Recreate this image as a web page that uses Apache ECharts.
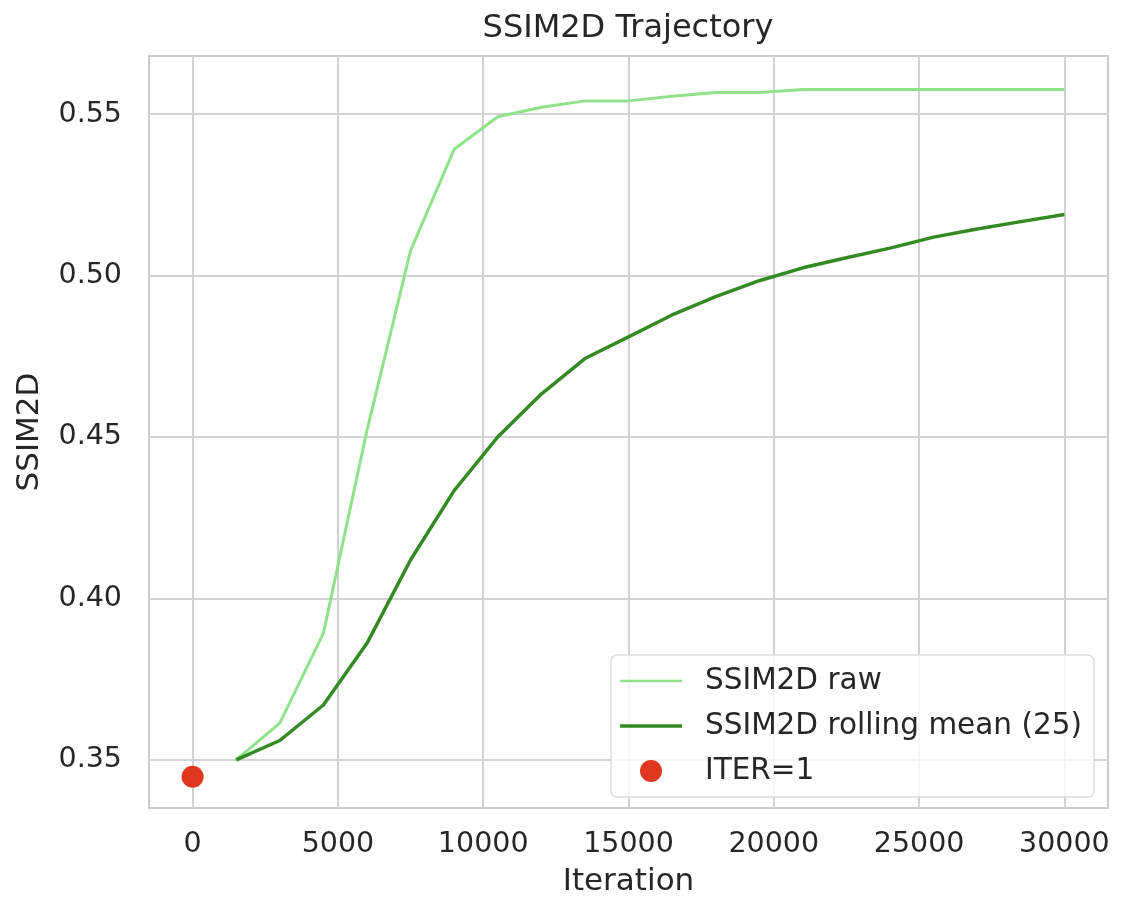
<!DOCTYPE html>
<html>
<head>
<meta charset="utf-8">
<title>SSIM2D Trajectory</title>
<script src="https://cdn.jsdelivr.net/npm/echarts@6/dist/echarts.min.js"></script>
<style>
  html, body { margin: 0; padding: 0; background: #fff; }
  #main { width: 1122px; height: 909px; }
</style>
</head>
<body>
<div id="main"></div>
<script>
// iteration steps (x)
var iters = [1500, 3000, 4500, 6000, 7500, 9000, 10500, 12000, 13500, 15000,
  16500, 18000, 19500, 21000, 22500, 24000, 25500, 27000, 28500, 30000];
// raw SSIM2D
var rawVals = [0.350, 0.3614, 0.3892, 0.452, 0.5077, 0.5391, 0.5492, 0.5521, 0.5541, 0.5541,
  0.5555, 0.5567, 0.5567, 0.5576, 0.5576, 0.5576, 0.5576, 0.5576, 0.5576, 0.5576];
// rolling mean (25)
var meanVals = [0.350, 0.356, 0.367, 0.3861, 0.4119, 0.4334, 0.4500, 0.4633, 0.4743, 0.4810,
  0.4878, 0.4935, 0.4984, 0.5024, 0.5055, 0.5085, 0.5119, 0.5144, 0.5167, 0.5189];
// first iteration point
var firstIter = [0];
var firstVal = [0.3448];
// tick labels
var xTicks = [0, 5000, 10000, 15000, 20000, 25000, 30000];
var yTicks = [0.35, 0.40, 0.45, 0.50, 0.55];

var textColor = '#262626';
var gridColor = '#d2d2d2';
var fontName = 'DejaVu Sans';
var rawColor = '#90e28a';
var meanColor = '#338a22';
var dotColor = '#e0371f';

function pairs(xs, ys) {
  return xs.map(function (x, i) { return [x, ys[i]]; });
}

var chart = echarts.init(document.getElementById('main'), null, { renderer: 'canvas' });

var option = {
  backgroundColor: '#ffffff',
  animation: false,
  title: {
    text: 'SSIM2D Trajectory',
    left: 623,
    textAlign: 'center',
    top: 8,
    textStyle: { fontFamily: fontName, fontSize: 32, fontWeight: 'normal', color: textColor }
  },
  grid: {
    left: 149, right: 14, top: 56, bottom: 101,
    show: true, borderColor: '#cccccc', borderWidth: 2
  },
  legend: {
    left: 611,
    top: 655,
    orient: 'vertical',
    padding: [11, 12, 11, 9],
    itemWidth: 62,
    itemHeight: 22,
    itemGap: 15,
    symbolKeepAspect: true,
    borderColor: '#dddddd',
    borderWidth: 1.5,
    borderRadius: 6,
    backgroundColor: 'rgba(255,255,255,0.8)',
    textStyle: { fontFamily: fontName, fontSize: 29.5, color: textColor, padding: [0, 0, 0, 18] },
    data: [
      { name: 'SSIM2D raw', icon: 'path://M0,0H62V2.6H0Z', itemStyle: { color: rawColor } },
      { name: 'SSIM2D rolling mean (25)', icon: 'path://M0,0H62V3.4H0Z', itemStyle: { color: meanColor } },
      { name: 'ITER=1', icon: 'circle', itemStyle: { color: dotColor, opacity: 1 } }
    ]
  },
  xAxis: {
    type: 'value',
    min: -1500,
    max: 31500,
    name: 'Iteration',
    nameLocation: 'middle',
    nameGap: 58,
    nameTextStyle: { fontFamily: fontName, fontSize: 31, color: textColor },
    axisLine: { show: false },
    axisTick: { show: false, customValues: xTicks },
    axisLabel: {
      customValues: xTicks,
      margin: 22,
      fontFamily: fontName, fontSize: 28.5, color: textColor,
      formatter: function (v) { return String(v); }
    },
    splitLine: { show: true, lineStyle: { color: gridColor, width: 2 } }
  },
  yAxis: {
    type: 'value',
    min: 0.3351,
    max: 0.568,
    name: 'SSIM2D',
    nameLocation: 'middle',
    nameGap: 104,
    nameRotate: 90,
    nameTextStyle: { fontFamily: fontName, fontSize: 31, color: textColor },
    axisLine: { show: false },
    axisTick: { show: false, customValues: yTicks },
    axisLabel: {
      customValues: yTicks,
      margin: 27,
      fontFamily: fontName, fontSize: 28.5, color: textColor,
      formatter: function (v) { return v.toFixed(2); }
    },
    splitLine: { show: true, lineStyle: { color: gridColor, width: 2 } }
  },
  series: [
    {
      name: 'SSIM2D raw',
      type: 'line',
      symbol: 'none',
      z: 2,
      lineStyle: { color: rawColor, width: 3 },
      itemStyle: { color: rawColor },
      data: pairs(iters, rawVals)
    },
    {
      name: 'SSIM2D rolling mean (25)',
      type: 'line',
      symbol: 'none',
      z: 3,
      lineStyle: { color: meanColor, width: 3.5 },
      itemStyle: { color: meanColor },
      data: pairs(iters, meanVals)
    },
    {
      name: 'ITER=1',
      type: 'scatter',
      symbol: 'circle',
      symbolSize: 22,
      z: 4,
      itemStyle: { color: dotColor, opacity: 1 },
      data: pairs(firstIter, firstVal)
    }
  ]
};
chart.setOption(option);
</script>
</body>
</html>
